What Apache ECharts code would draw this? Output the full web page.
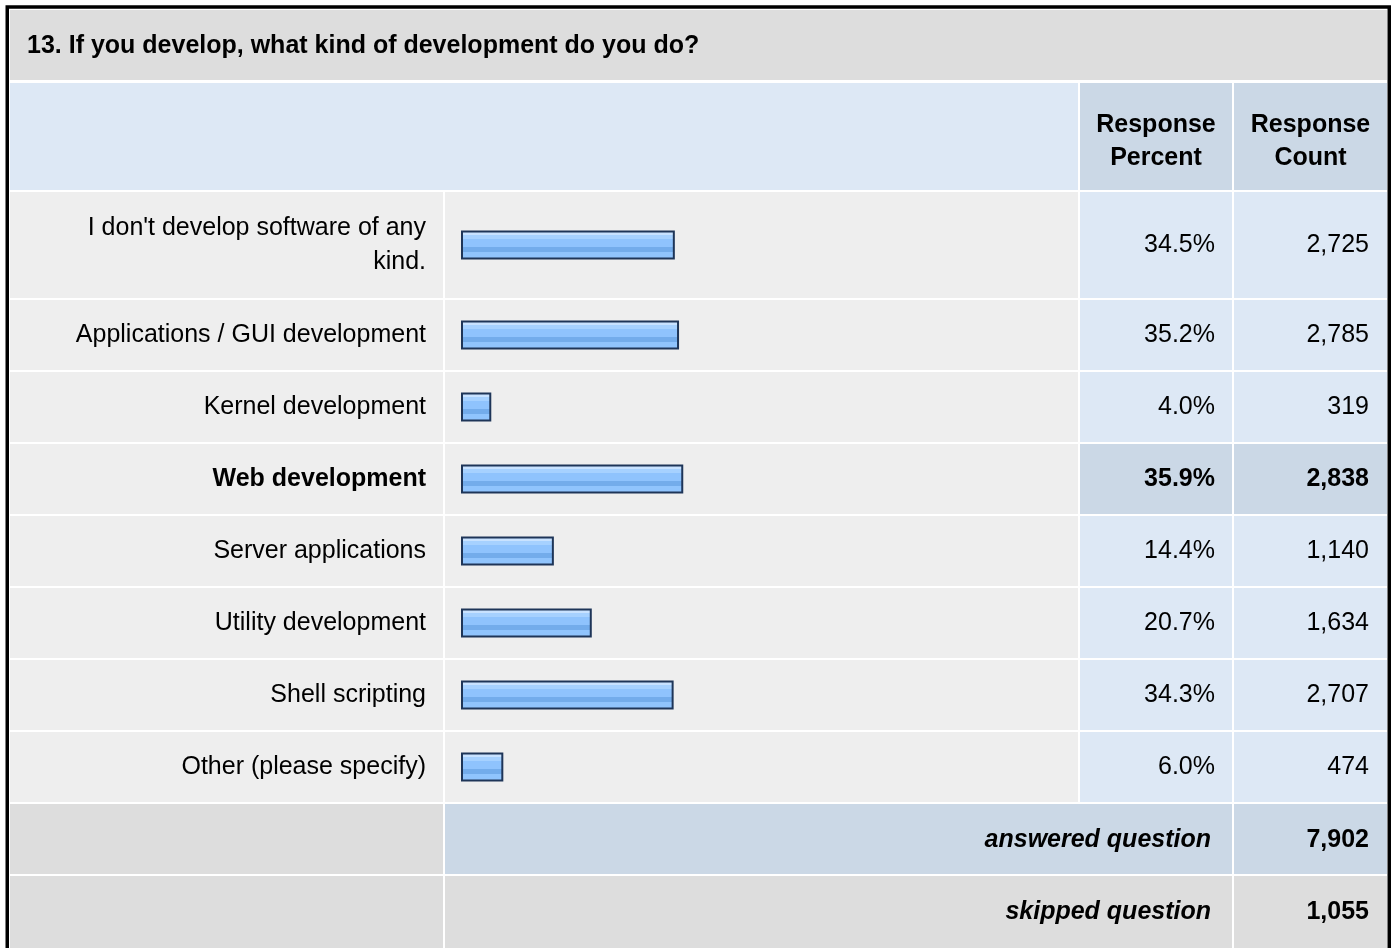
<!DOCTYPE html>
<html>
<head>
<meta charset="utf-8">
<script src="https://cdn.jsdelivr.net/npm/echarts@6/dist/echarts.min.js"></script>
<style>
  html, body { margin: 0; padding: 0; background: #fff; }
  #chart { width: 1397px; height: 948px; }
</style>
</head>
<body>
<div id="chart"></div>
<script>
// survey question 13 - response table with bars
const questionTitle = '13. If you develop, what kind of development do you do?';
const rowLabels = [
  "I don't develop software of any kind.",
  'Applications / GUI development',
  'Kernel development',
  'Web development',
  'Server applications',
  'Utility development',
  'Shell scripting',
  'Other (please specify)'
];
const responsePercent = [34.5, 35.2, 4.0, 35.9, 14.4, 20.7, 34.3, 6.0];
const responseCount = [2725, 2785, 319, 2838, 1140, 1634, 2707, 474];
const answeredQuestion = 7902;
const skippedQuestion = 1055;
const highlightRow = 3; // "Web development" is shown in bold

const FONT = "'Liberation Sans', Arial, sans-serif";
const FS = 25;
const X_MIN = -0.7; // bars start a few px before 0 like the original

// table layout (columns and rows)
const col = { l0: 10, l1: 443, b0: 445, b1: 1078, p0: 1080, p1: 1232, c0: 1234, c1: 1387 };
function rowTop(i) { return i === 0 ? 192 : 300 + (i - 1) * 72; }
function rowH(i) { return i === 0 ? 106 : 70; }

const fmtPct = v => v.toFixed(1) + '%';
const fmtCount = v => v.toLocaleString('en-US');

// simple word wrap so the long label breaks like in the survey page
function wrap(s, maxChars) {
  const words = s.split(' ');
  const lines = [];
  let cur = '';
  words.forEach(function (w) {
    if (cur && (cur + ' ' + w).length > maxChars) { lines.push(cur); cur = w; }
    else cur = cur ? cur + ' ' + w : w;
  });
  if (cur) lines.push(cur);
  return lines.join('\n');
}

const chart = echarts.init(document.getElementById('chart'));

function rect(x0, x1, y, h, fill) {
  return { type: 'rect', silent: true, z: -10, shape: { x: x0, y: y, width: x1 - x0, height: h }, style: { fill: fill } };
}
function text(t, x, y, align, weight, italic) {
  return {
    type: 'text', silent: true, z: 5,
    style: {
      text: t, x: x, y: y, align: align, verticalAlign: 'middle',
      fontFamily: FONT, fontSize: FS, fontWeight: weight || 'normal',
      fontStyle: italic ? 'italic' : 'normal', fill: '#000', lineHeight: 33
    }
  };
}

const graphics = [];
// title row
graphics.push(rect(col.l0, col.c1, 10, 70, '#dddddd'));
graphics.push(text(questionTitle, 27, 46, 'left', 'bold'));
// column header row
graphics.push(rect(col.l0, col.b1, 83, 107, '#dde8f5'));
graphics.push(rect(col.p0, col.p1, 83, 107, '#cbd8e6'));
graphics.push(rect(col.c0, col.c1, 83, 107, '#cbd8e6'));
graphics.push(text('Response\nPercent', (col.p0 + col.p1) / 2, 142, 'center', 'bold'));
graphics.push(text('Response\nCount', (col.c0 + col.c1) / 2, 142, 'center', 'bold'));
// data rows
rowLabels.forEach(function (r, i) {
  const y = rowTop(i), h = rowH(i);
  const side = i === highlightRow ? '#cbd8e6' : '#dde8f5';
  graphics.push(rect(col.l0, col.l1, y, h, '#eeeeee'));
  graphics.push(rect(col.b0, col.b1, y, h, '#eeeeee'));
  graphics.push(rect(col.p0, col.p1, y, h, side));
  graphics.push(rect(col.c0, col.c1, y, h, side));
});
// summary rows
graphics.push(rect(col.l0, col.l1, 804, 70, '#dddddd'));
graphics.push(rect(col.b0, col.p1, 804, 70, '#cbd8e6'));
graphics.push(rect(col.c0, col.c1, 804, 70, '#cbd8e6'));
graphics.push(rect(col.l0, col.l1, 876, 72, '#dddddd'));
graphics.push(rect(col.b0, col.p1, 876, 72, '#dddddd'));
graphics.push(rect(col.c0, col.c1, 876, 72, '#dddddd'));
graphics.push(text('answered question', 1211, 840, 'right', 'bold', true));
graphics.push(text(fmtCount(answeredQuestion), 1369, 840, 'right', 'bold'));
graphics.push(text('skipped question', 1211, 912, 'right', 'bold', true));
graphics.push(text(fmtCount(skippedQuestion), 1369, 912, 'right', 'bold'));
// outer frame
graphics.push({ type: 'rect', silent: true, z: 20, shape: { x: 7.25, y: 7, width: 1382, height: 980 }, style: { fill: 'none', stroke: '#000', lineWidth: 3.5 } });

const barFill = new echarts.graphic.LinearGradient(0, 0, 0, 1, [
  { offset: 0, color: '#c8e2ff' },
  { offset: 0.14, color: '#c8e2ff' },
  { offset: 0.14, color: '#a6d1ff' },
  { offset: 0.3, color: '#a6d1ff' },
  { offset: 0.3, color: '#8fc3fd' },
  { offset: 0.58, color: '#8fc3fd' },
  { offset: 0.58, color: '#73aceb' },
  { offset: 0.74, color: '#73aceb' },
  { offset: 0.74, color: '#90c4fd' },
  { offset: 1, color: '#90c4fd' }
]);

const labelBase = { fontFamily: FONT, fontSize: FS, color: '#000' };
const rich = { b: { fontFamily: FONT, fontSize: FS, color: '#000', fontWeight: 'bold' } };
const hidden = { axisLine: { show: false }, axisTick: { show: false }, splitLine: { show: false } };

function boldIf(i, s) { return i === highlightRow ? '{b|' + s + '}' : s; }

const firstCat = rowLabels.slice(0, 1);
const restCat = rowLabels.slice(1);

// bar drawn from the axis start to the value, with the dark frame
function renderBar(params, api) {
  const end = api.coord([api.value(0), api.value(1)]);
  const start = api.coord([X_MIN, api.value(1)]);
  const h = 27;
  return {
    type: 'rect',
    shape: { x: start[0], y: end[1] - h / 2, width: end[0] - start[0], height: h },
    style: { fill: barFill, stroke: '#1e3558', lineWidth: 2 }
  };
}

const option = {
  animation: false,
  backgroundColor: '#ffffff',
  graphic: graphics,
  grid: [
    { left: 462, top: 191, width: 606, height: 108 },
    { left: 462, top: 299, width: 606, height: 504 }
  ],
  xAxis: [
    { type: 'value', gridIndex: 0, min: X_MIN, max: 100, show: false },
    { type: 'value', gridIndex: 1, min: X_MIN, max: 100, show: false }
  ],
  yAxis: [
    Object.assign({ type: 'category', gridIndex: 0, inverse: true, data: firstCat,
      axisLabel: Object.assign({ interval: 0, margin: 36, align: 'right', lineHeight: 34,
        formatter: v => wrap(v, 32) }, labelBase) }, hidden),
    Object.assign({ type: 'category', gridIndex: 1, inverse: true, data: restCat,
      axisLabel: Object.assign({ interval: 0, margin: 36, align: 'right', rich: rich,
        formatter: (v, i) => boldIf(i + 1, v) }, labelBase) }, hidden),
    Object.assign({ type: 'category', gridIndex: 0, inverse: true, position: 'right', data: firstCat,
      axisLabel: Object.assign({ interval: 0, margin: 147, align: 'right', rich: rich,
        formatter: (v, i) => boldIf(i, fmtPct(responsePercent[i])) }, labelBase) }, hidden),
    Object.assign({ type: 'category', gridIndex: 0, inverse: true, position: 'right', data: firstCat,
      axisLabel: Object.assign({ interval: 0, margin: 301, align: 'right', rich: rich,
        formatter: (v, i) => boldIf(i, fmtCount(responseCount[i])) }, labelBase) }, hidden),
    Object.assign({ type: 'category', gridIndex: 1, inverse: true, position: 'right', data: restCat,
      axisLabel: Object.assign({ interval: 0, margin: 147, align: 'right', rich: rich,
        formatter: (v, i) => boldIf(i + 1, fmtPct(responsePercent[i + 1])) }, labelBase) }, hidden),
    Object.assign({ type: 'category', gridIndex: 1, inverse: true, position: 'right', data: restCat,
      axisLabel: Object.assign({ interval: 0, margin: 301, align: 'right', rich: rich,
        formatter: (v, i) => boldIf(i + 1, fmtCount(responseCount[i + 1])) }, labelBase) }, hidden)
  ],
  series: [
    {
      type: 'custom', xAxisIndex: 0, yAxisIndex: 0, renderItem: renderBar,
      encode: { x: 0, y: 1 },
      data: responsePercent.slice(0, 1).map((v, i) => [v, i])
    },
    {
      type: 'custom', xAxisIndex: 1, yAxisIndex: 1, renderItem: renderBar,
      encode: { x: 0, y: 1 },
      data: responsePercent.slice(1).map((v, i) => [v, i])
    }
  ]
};

chart.setOption(option);
</script>
</body>
</html>
